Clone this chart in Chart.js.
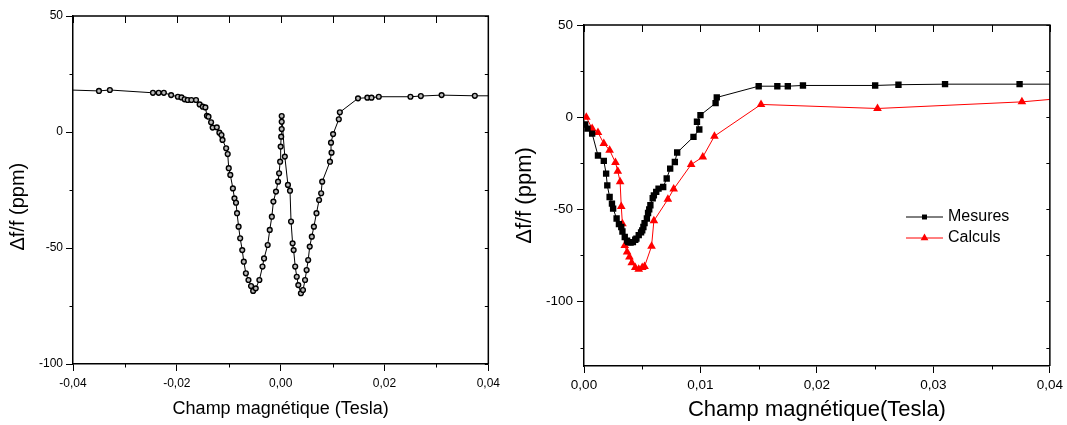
<!DOCTYPE html>
<html>
<head>
<meta charset="utf-8">
<script src="https://cdn.jsdelivr.net/npm/chart.js@4.4.1/dist/chart.umd.min.js"></script>
<style>
  body { margin: 0; background: #fff; }
  #wrap { position: relative; width: 1067px; height: 425px; }
  #left { position: absolute; left: 0; top: 0; }
  #right { position: absolute; left: 505px; top: 0; }
</style>
</head>
<body>
<div id="wrap">
  <canvas id="left" width="505" height="425"></canvas>
  <canvas id="right" width="562" height="425"></canvas>
</div>
<script>
// graphique de gauche : champ (T) et delta f / f (ppm)
const leftB = [-0.042, -0.035, -0.0329, -0.0246, -0.0235, -0.0225, -0.0211, -0.0198, -0.0191, -0.0185,
  -0.0179, -0.0172, -0.0163, -0.0156, -0.015, -0.0145, -0.0142, -0.0139, -0.0134, -0.0131,
  -0.0123, -0.0118, -0.0114, -0.0112, -0.0105, -0.0102, -0.01, -0.0097, -0.0092, -0.0089,
  -0.0086, -0.0084, -0.0081, -0.0078, -0.0074, -0.0071, -0.0067, -0.0062, -0.0057, -0.0053,
  -0.0048, -0.0041, -0.0035, -0.0032, -0.0025, -0.0021, -0.0017, -0.0014, -0.0009, -0.0005,
  -0.0003, -0.0001, 0.0, 0.0001, 0.0002, 0.0002, 0.0002, 0.0008, 0.0014, 0.0018,
  0.002, 0.0023, 0.0025, 0.0028, 0.0031, 0.0034, 0.0039, 0.0043, 0.0047, 0.005,
  0.0053, 0.0056, 0.006, 0.0064, 0.0069, 0.0074, 0.0078, 0.008, 0.0095, 0.0098,
  0.0097, 0.0101, 0.0112, 0.0114, 0.0149, 0.0167, 0.0175, 0.0189, 0.025, 0.027,
  0.031, 0.0374, 0.042];
const leftDf = [18.2, 17.7, 18.1, 16.9, 16.9, 16.9, 15.9, 15.2, 14.9, 14.1,
  13.8, 13.8, 13.8, 11.9, 10.9, 10.6, 7.0, 6.6, 4.2, 1.9,
  2.0, -0.3, -1.3, -3.4, -7.0, -9.5, -15.6, -18.5, -24.3, -28.6,
  -30.5, -35, -40.8, -45.8, -50.9, -55.9, -60.9, -63.8, -66.4, -68.5,
  -67.4, -63.8, -58, -54.5, -48.7, -42.2, -36.5, -30, -25.7, -21.4,
  -17.8, -12.8, -6.3, -2, 1.3, 4.4, 6.9, -10.6, -22.8, -25.3,
  -38.6, -48, -50.9, -58, -62.4, -66, -69.5, -68.1, -63.8, -59.5,
  -55.2, -49.4, -45.1, -40.8, -35, -29.3, -26.4, -21.4, -12.8, -8.9,
  -4.6, -0.9, 5.5, 8.5, 14.5, 14.8, 14.8, 15.2, 15.2, 15.5,
  15.9, 15.6, 15.6];

// graphique de droite : mesures
const mesB = [0.0001, 0.0003, 0.0007, 0.0012, 0.0017, 0.0019, 0.002, 0.0022, 0.0024, 0.0025,
  0.0028, 0.003, 0.0032, 0.0033, 0.0035, 0.0037, 0.0038, 0.004, 0.0042, 0.0044,
  0.0045, 0.0047, 0.0049, 0.005, 0.0051, 0.0052, 0.0054, 0.0055, 0.0056, 0.0057,
  0.0059, 0.006, 0.0062, 0.0064, 0.0068, 0.0071, 0.0074, 0.0078, 0.008, 0.0094,
  0.0099, 0.0097, 0.01, 0.0113, 0.0114, 0.015, 0.0166, 0.0175, 0.0188, 0.025,
  0.027, 0.031, 0.0374, 0.042];
const mesDf = [-4.0, -6.2, -8.9, -20.8, -23.7, -30.6, -37, -43.3, -46.9, -49.6,
  -55, -58, -59.6, -62, -65, -67, -67.8, -68, -67.8, -66.5,
  -65.9, -64, -62.5, -61.4, -59.6, -57.5, -55, -52, -50, -47.8,
  -44, -42.4, -40.5, -38.8, -37.9, -33.3, -27.9, -24.3, -19.2, -10.7,
  -6.7, -2.5, 1.1, 7.6, 10.7, 16.8, 16.8, 16.8, 17.2, 17.2,
  17.6, 17.9, 17.9, 17.9];

// graphique de droite : calculs
const calB = [0.0002, 0.0007, 0.0012, 0.0017, 0.0022, 0.0027, 0.0029, 0.0031, 0.0032, 0.0033,
  0.0035, 0.0037, 0.0039, 0.0041, 0.0044, 0.0047, 0.005, 0.0052, 0.0058, 0.006,
  0.0072, 0.0077, 0.0092, 0.0102, 0.0112, 0.0152, 0.0252, 0.0376, 0.042];
const calDf = [0, -6.2, -8.3, -14.3, -17.9, -24.6, -29.3, -35, -48.5, -57.8,
  -69.6, -73.2, -75.9, -79, -81.5, -82.5, -81.5, -81, -70, -56.2,
  -44.6, -39, -25.7, -21.6, -10.3, 6.9, 4.7, 8.3, 10.7];

// graduations avec etiquette
const leftXTicks = [-0.04, -0.02, 0, 0.02, 0.04];
const leftYTicks = [-100, -50, 0, 50];
const rightXTicks = [0, 0.01, 0.02, 0.03, 0.04];
const rightYTicks = [-100, -50, 0, 50];

const FONT = '"Liberation Sans", Arial, sans-serif';
const pts = (xs, ys) => xs.map((x, i) => ({ x: x, y: ys[i] }));
const isMajor = (v, arr) => arr.some((a) => Math.abs(a - v) < 1e-9);
const fmtComma = (v) => {
  const r = Math.round(v * 100) / 100;
  return (r === 0 ? 0 : r).toFixed(2).replace(".", ",");
};

// cadre haut/droite + petites graduations
const frame = {
  id: "frame",
  afterDraw(chart, args, opts) {
    const { ctx, chartArea: a, scales } = chart;
    ctx.save();
    ctx.strokeStyle = "#000";
    ctx.lineWidth = 1.5;
    ctx.beginPath();
    ctx.moveTo(a.left, a.top);
    ctx.lineTo(a.right, a.top);
    ctx.lineTo(a.right, a.bottom);
    ctx.stroke();
    ctx.lineWidth = 1;
    ctx.beginPath();
    scales.x.ticks.forEach((t) => {
      const px = Math.round(scales.x.getPixelForValue(t.value)) + 0.5;
      ctx.moveTo(px, a.top);
      ctx.lineTo(px, a.top + opts.top);
      if (!isMajor(t.value, opts.xMajor)) {
        ctx.moveTo(px, a.bottom);
        ctx.lineTo(px, a.bottom + opts.minor);
      }
    });
    scales.y.ticks.forEach((t) => {
      const py = Math.round(scales.y.getPixelForValue(t.value)) + 0.5;
      ctx.moveTo(a.right, py);
      ctx.lineTo(a.right - opts.right, py);
      if (!isMajor(t.value, opts.yMajor)) {
        ctx.moveTo(a.left, py);
        ctx.lineTo(a.left - opts.minor, py);
      }
    });
    ctx.stroke();
    ctx.restore();
  },
};

// legende dans la zone du graphique
const legendBox = {
  id: "legendBox",
  afterDraw(chart, args, opts) {
    if (!opts.show) return;
    const ctx = chart.ctx;
    ctx.save();
    ctx.font = "16px " + FONT;
    ctx.textBaseline = "middle";
    chart.data.datasets.forEach((ds, i) => {
      const y = opts.y + i * opts.row;
      ctx.strokeStyle = ds.borderColor;
      ctx.lineWidth = 1;
      ctx.beginPath();
      ctx.moveTo(opts.x, y);
      ctx.lineTo(opts.x + opts.len, y);
      ctx.stroke();
      ctx.fillStyle = ds.pointBackgroundColor;
      Chart.helpers.drawPoint(ctx, { pointStyle: ds.pointStyle, radius: ds.pointStyle === "rect" ? 3.5 : 4.5, borderWidth: 0, rotation: 0 }, opts.x + opts.len / 2, y);
      ctx.fillStyle = "#000";
      ctx.fillText(ds.label, opts.x + opts.len + 5, y);
    });
    ctx.restore();
  },
};

function makeChart(id, datasets, o) {
  return new Chart(document.getElementById(id), {
    type: "line",
    data: { datasets: datasets },
    options: {
      responsive: false,
      animation: false,
      devicePixelRatio: 1,
      layout: { padding: o.padding },
      plugins: {
        legend: { display: false },
        tooltip: { enabled: false },
        frame: { top: 7, right: 3.5, minor: 3.5, xMajor: o.xMajor, yMajor: o.yMajor },
        legendBox: o.legend,
      },
      scales: {
        x: {
          type: "linear",
          min: o.xMin, max: o.xMax,
          afterFit: (s) => { s.height = o.xHeight; },
          border: { display: true, color: "#000", width: 1.5 },
          grid: {
            drawOnChartArea: false, tickLength: o.tickLen,
            tickColor: (c) => (isMajor(c.tick.value, o.xMajor) ? "#000" : "rgba(0,0,0,0)"),
          },
          ticks: {
            stepSize: o.xStep, autoSkip: false, maxRotation: 0, padding: o.xLabelPad,
            color: "#000", font: { family: FONT, size: o.tickFont },
            callback: (v) => (isMajor(v, o.xMajor) ? fmtComma(v) : ""),
          },
          title: {
            display: true, text: o.xTitle, color: "#000",
            font: { family: FONT, size: o.xTitleFont }, padding: { top: 0, bottom: o.xTitlePad },
          },
        },
        y: {
          type: "linear",
          min: o.yMin, max: o.yMax,
          afterFit: (s) => { s.width = o.yWidth; },
          border: { display: true, color: "#000", width: 1.5 },
          grid: {
            drawOnChartArea: false, tickLength: o.tickLen,
            tickColor: (c) => (isMajor(c.tick.value, o.yMajor) ? "#000" : "rgba(0,0,0,0)"),
          },
          ticks: {
            stepSize: 25, includeBounds: false, autoSkip: false, padding: o.yLabelPad,
            color: "#000", font: { family: FONT, size: o.tickFont },
            callback: (v) => (isMajor(v, o.yMajor) ? String(v) : ""),
          },
          title: {
            // espaces insecables pour descendre un peu le titre
            display: true, text: "\u0394f/f (ppm)" + "\u00a0".repeat(o.yTitleShift), color: "#000",
            font: { family: FONT, size: o.yTitleFont }, padding: { top: o.yTitlePad, bottom: 0 },
          },
        },
      },
    },
    plugins: [frame, legendBox],
  });
}

makeChart("left", [
  {
    label: "\u0394f/f",
    data: pts(leftB, leftDf),
    borderColor: "#000", borderWidth: 1,
    pointStyle: "circle", pointRadius: 2.4,
    pointBackgroundColor: "#bbb", pointBorderColor: "#000", pointBorderWidth: 1.4,
    tension: 0,
  },
], {
  padding: { left: 0, right: 15, top: 16, bottom: 0 },
  xMin: -0.04, xMax: 0.04, xStep: 0.01, xMajor: leftXTicks,
  yMin: -100, yMax: 50, yMajor: leftYTicks,
  xHeight: 61, yWidth: 73, tickLen: 7,
  tickFont: 12, xLabelPad: 5, yLabelPad: 3,
  xTitle: "Champ magnétique (Tesla)", xTitleFont: 18, xTitlePad: 5,
  yTitleFont: 20, yTitlePad: 6, yTitleShift: 6,
  legend: { show: false },
});

makeChart("right", [
  {
    label: "Mesures",
    data: pts(mesB, mesDf),
    borderColor: "#000", borderWidth: 1,
    pointStyle: "rect", pointRadius: 4.5,
    pointBackgroundColor: "#000", pointBorderColor: "#000", pointBorderWidth: 0,
    tension: 0,
  },
  {
    label: "Calculs",
    data: pts(calB, calDf),
    borderColor: "#ff0000", borderWidth: 1,
    pointStyle: "triangle", pointRadius: 5,
    pointBackgroundColor: "#ff0000", pointBorderColor: "#ff0000", pointBorderWidth: 0,
    tension: 0,
  },
], {
  padding: { left: 0, right: 17, top: 25, bottom: 0 },
  xMin: 0, xMax: 0.04, xStep: 0.005, xMajor: rightXTicks,
  yMin: -135, yMax: 50, yMajor: rightYTicks,
  xHeight: 59, yWidth: 79, tickLen: 7,
  tickFont: 13.5, xLabelPad: 4, yLabelPad: 4,
  xTitle: "Champ magnétique(Tesla)", xTitleFont: 22, xTitlePad: 2,
  yTitleFont: 22, yTitlePad: 7, yTitleShift: 0,
  legend: { show: true, x: 401, y: 217, row: 21, len: 37 },
});
</script>
</body>
</html>
